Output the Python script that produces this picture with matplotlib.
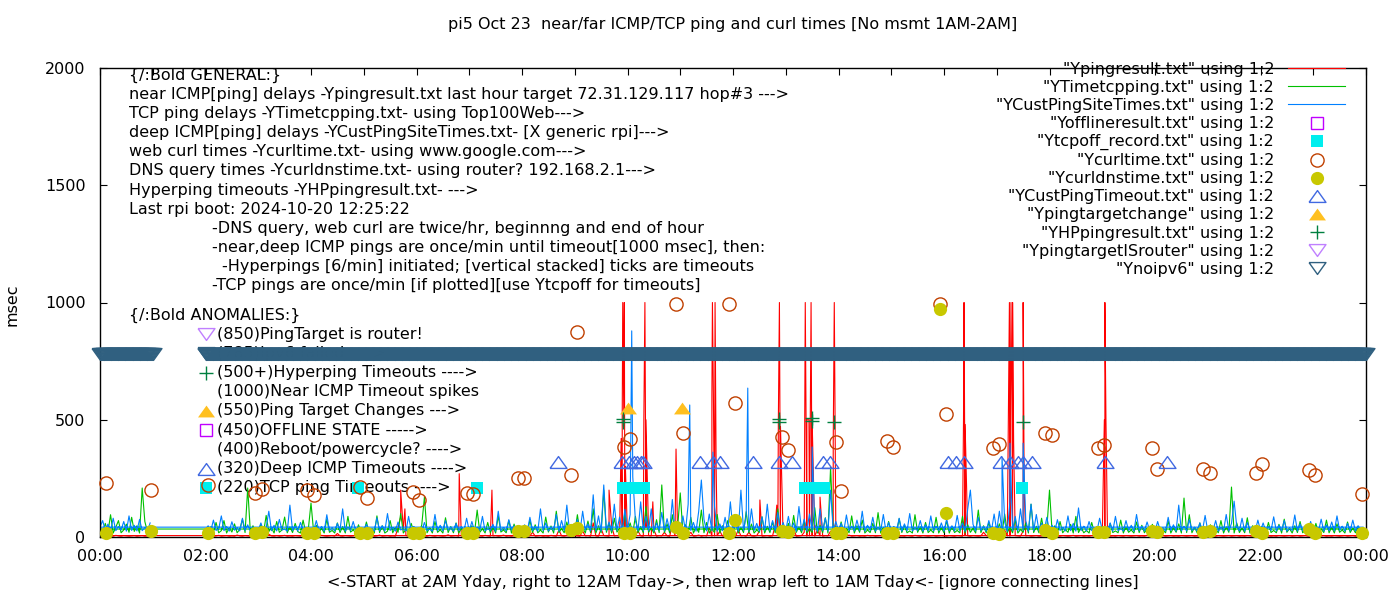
import numpy as np
import matplotlib
matplotlib.use("Agg")
import matplotlib.pyplot as plt

plt.rcParams['font.family'] = ['DejaVu Sans']
FS = 11.5

# ---------------- data ----------------
# logged from 2AM yesterday to midnight, then wrapped to 0-1AM today
noise_hours = [2, 3, 4, 5, 6, 7, 8, 9, 10, 11, 12, 13, 14, 15, 16, 17, 18, 19, 20, 21, 22, 23, 0]
samples_per_hour = 20  # one value every 3 minutes

# near ICMP ping (msec), red
ping_ms = [
    [5, 4, 6, 4, 5, 7, 4, 5, 6, 4, 5, 4, 8, 5, 4, 6, 5, 4, 7, 5],
    [4, 6, 5, 4, 12, 5, 4, 6, 4, 5, 7, 4, 5, 4, 6, 5, 4, 9, 5, 4],
    [6, 4, 5, 4, 7, 5, 4, 5, 6, 4, 15, 5, 4, 6, 5, 4, 5, 8, 4, 5],
    [5, 4, 6, 5, 4, 5, 8, 4, 5, 6, 4, 5, 4, 40, 85, 30, 6, 4, 5, 4],
    [5, 6, 4, 5, 4, 7, 5, 4, 6, 5, 4, 5, 9, 4, 5, 6, 4, 5, 4, 6],
    [4, 5, 6, 4, 5, 4, 7, 5, 4, 5, 6, 4, 5, 8, 4, 5, 4, 6, 5, 4],
    [5, 4, 6, 5, 20, 4, 5, 6, 4, 5, 4, 7, 5, 4, 30, 5, 4, 6, 5, 4],
    [6, 5, 4, 25, 5, 6, 4, 60, 5, 4, 35, 6, 5, 4, 45, 5, 6, 4, 30, 5],
    [5, 8, 4, 6, 25, 5, 4, 40, 6, 5, 30, 4, 6, 5, 20, 5, 4, 50, 6, 5],
    [4, 35, 5, 6, 20, 4, 5, 8, 4, 6, 5, 40, 4, 5, 6, 25, 5, 4, 6, 5],
    [5, 4, 30, 5, 6, 4, 20, 5, 4, 6, 25, 4, 5, 6, 4, 5, 50, 6, 4, 5],
    [6, 4, 5, 35, 4, 5, 6, 20, 4, 5, 6, 4, 30, 5, 4, 6, 5, 25, 4, 5],
    [5, 6, 4, 5, 8, 4, 5, 6, 4, 5, 4, 7, 5, 6, 4, 5, 6, 4, 5, 4],
    [4, 5, 6, 4, 5, 4, 6, 5, 4, 7, 5, 4, 6, 5, 4, 5, 6, 4, 5, 6],
    [5, 4, 6, 5, 4, 6, 5, 4, 8, 5, 4, 6, 5, 4, 5, 20, 6, 4, 5, 4],
    [6, 5, 4, 30, 5, 4, 35, 6, 5, 4, 25, 5, 6, 4, 5, 6, 4, 5, 6, 4],
    [5, 6, 4, 5, 4, 6, 5, 4, 5, 7, 4, 5, 6, 4, 5, 4, 6, 5, 4, 5],
    [4, 5, 6, 4, 5, 4, 6, 5, 4, 6, 5, 4, 5, 6, 4, 5, 4, 7, 5, 4],
    [5, 4, 5, 6, 4, 5, 6, 4, 5, 4, 6, 5, 4, 5, 6, 4, 5, 4, 6, 5],
    [6, 4, 5, 4, 6, 5, 4, 5, 6, 4, 5, 6, 4, 5, 4, 6, 5, 4, 5, 6],
    [4, 5, 6, 5, 4, 5, 4, 6, 5, 4, 5, 6, 4, 5, 6, 4, 5, 6, 4, 5],
    [5, 6, 4, 5, 6, 4, 5, 4, 6, 5, 4, 5, 6, 4, 5, 6, 4, 5, 4, 6],
    [6, 5, 4, 6, 5, 4, 7, 5, 4, 6, 5, 4, 5, 6, 4, 5, 6, 4, 5, 6],
]
ping_spike_t = [5.70, 5.78, 6.81, 7.43, 9.65, 9.88, 9.90, 9.91, 9.93, 9.94, 9.96, 10.31, 10.33,
                10.35, 10.48, 10.92, 11.60, 11.61, 11.63, 11.66, 11.68, 12.51, 12.83, 12.86,
                12.88, 12.90, 13.36, 13.37, 13.40, 13.44, 13.48, 13.50, 13.65, 13.90, 13.92,
                13.94, 16.37, 16.38, 16.40, 17.22, 17.24, 17.26, 17.27, 17.29, 17.30, 17.32,
                17.50, 17.52, 19.04, 19.05, 19.07]
ping_spike_ms = [200, 120, 270, 200, 200, 420, 510, 1000, 510, 1000, 300, 500, 1000,
                 500, 150, 375, 601, 1000, 560, 1000, 300, 158, 136, 500,
                 1000, 470, 500, 1000, 500, 500, 1000, 500, 170, 400, 1000,
                 350, 500, 1000, 480, 500, 1000, 600, 1000, 500, 1000, 400,
                 1000, 200, 500, 1000, 500]

# TCP ping (msec), green
tcpping_ms = [
    [19, 17, 44, 20, 62, 18, 27, 70, 17, 40, 21, 56, 18, 33, 75, 19, 209, 23, 48, 19],
    [21, 55, 18, 92, 23, 40, 17, 66, 20, 30, 85, 18, 44, 19, 58, 23, 17, 72, 19, 35],
    [145, 22, 50, 18, 38, 17, 76, 20, 28, 17, 60, 19, 45, 17, 88, 21, 30, 18, 52, 20],
    [18, 64, 21, 35, 17, 90, 19, 48, 17, 25, 70, 18, 42, 20, 100, 17, 33, 19, 58, 21],
    [24, 17, 52, 170, 18, 40, 17, 66, 20, 31, 17, 82, 19, 45, 18, 60, 17, 36, 22, 19],
    [17, 48, 19, 115, 20, 35, 17, 62, 18, 44, 17, 90, 21, 30, 18, 70, 17, 55, 19, 28],
    [20, 38, 17, 72, 19, 52, 18, 30, 17, 85, 21, 47, 17, 110, 19, 36, 18, 64, 17, 42],
    [18, 95, 20, 40, 17, 68, 19, 120, 17, 48, 18, 200, 20, 58, 17, 80, 21, 36, 19, 104],
    [22, 60, 17, 88, 19, 45, 18, 130, 20, 38, 17, 74, 19, 222, 18, 56, 17, 95, 21, 40],
    [188, 19, 52, 18, 84, 17, 40, 20, 115, 18, 62, 17, 35, 19, 96, 17, 48, 20, 70, 18],
    [21, 75, 17, 42, 19, 108, 18, 55, 17, 30, 20, 86, 17, 46, 19, 64, 18, 120, 17, 38],
    [19, 58, 17, 92, 20, 44, 18, 70, 17, 33, 19, 125, 17, 50, 18, 82, 17, 298, 20, 46],
    [17, 64, 19, 36, 18, 90, 17, 48, 20, 72, 17, 30, 19, 58, 18, 104, 17, 42, 19, 66],
    [20, 34, 17, 78, 19, 50, 18, 26, 17, 95, 20, 44, 17, 62, 19, 30, 18, 84, 17, 40],
    [18, 70, 17, 45, 19, 28, 18, 88, 17, 52, 20, 36, 17, 115, 19, 48, 18, 62, 17, 34],
    [21, 56, 17, 98, 19, 40, 18, 74, 17, 32, 20, 60, 17, 140, 19, 46, 18, 80, 17, 38],
    [200, 19, 48, 17, 66, 18, 32, 20, 54, 17, 88, 19, 40, 18, 28, 17, 62, 20, 45, 17],
    [18, 38, 17, 58, 19, 26, 18, 72, 17, 44, 20, 30, 17, 64, 19, 50, 18, 36, 17, 54],
    [19, 46, 17, 30, 18, 68, 17, 40, 20, 56, 17, 166, 19, 95, 18, 42, 17, 60, 20, 34],
    [17, 52, 19, 34, 18, 70, 17, 44, 20, 213, 17, 60, 19, 38, 18, 82, 17, 48, 20, 30],
    [20, 40, 17, 62, 19, 28, 18, 54, 17, 76, 20, 36, 17, 48, 19, 66, 18, 30, 17, 50],
    [18, 58, 17, 34, 19, 72, 18, 42, 17, 56, 20, 30, 17, 64, 19, 38, 18, 46, 17, 34],
    [34, 20, 58, 19, 95, 17, 42, 70, 18, 30, 55, 20, 84, 24, 48, 17, 209, 66, 22, 34],
]

# deep ICMP ping (msec), blue
custping_ms = [
    [30, 48, 26, 72, 28, 35, 90, 27, 44, 25, 65, 29, 38, 26, 80, 28, 52, 25, 36, 30],
    [28, 60, 25, 40, 110, 27, 50, 26, 75, 30, 34, 25, 136, 28, 46, 26, 62, 29, 38, 25],
    [32, 26, 70, 28, 45, 25, 95, 27, 38, 26, 58, 30, 120, 25, 42, 28, 66, 26, 34, 29],
    [26, 54, 29, 36, 25, 82, 27, 48, 26, 100, 28, 40, 25, 64, 30, 35, 26, 88, 27, 44],
    [29, 40, 26, 62, 28, 34, 25, 96, 27, 50, 26, 70, 30, 38, 25, 58, 28, 44, 26, 80],
    [27, 66, 25, 42, 29, 88, 26, 36, 28, 54, 25, 110, 27, 40, 26, 74, 30, 48, 25, 36],
    [30, 52, 26, 84, 28, 44, 25, 120, 27, 60, 26, 38, 29, 96, 25, 70, 28, 136, 26, 50],
    [28, 75, 25, 110, 30, 56, 26, 180, 27, 90, 25, 222, 28, 64, 26, 140, 29, 85, 25, 118],
    [30, 96, 256, 70, 28, 150, 26, 88, 27, 120, 25, 60, 29, 105, 26, 78, 28, 160, 25, 66],
    [27, 90, 26, 140, 28, 62, 25, 110, 243, 74, 26, 98, 28, 130, 25, 56, 27, 84, 26, 150],
    [29, 68, 25, 200, 27, 92, 26, 120, 28, 58, 25, 86, 27, 140, 26, 70, 28, 104, 25, 62],
    [26, 88, 28, 60, 25, 130, 27, 76, 26, 98, 28, 54, 25, 120, 27, 80, 26, 200, 28, 66],
    [27, 58, 25, 94, 28, 46, 26, 72, 27, 110, 25, 50, 28, 84, 26, 40, 27, 96, 25, 62],
    [28, 44, 26, 80, 25, 56, 27, 100, 26, 38, 28, 70, 25, 52, 27, 90, 26, 46, 28, 60],
    [25, 76, 27, 48, 26, 92, 28, 60, 25, 120, 200, 54, 26, 84, 28, 44, 25, 70, 27, 98],
    [26, 110, 28, 64, 25, 150, 27, 88, 26, 120, 28, 70, 25, 140, 27, 96, 26, 60, 28, 84],
    [27, 50, 25, 74, 28, 40, 26, 90, 27, 58, 25, 124, 28, 46, 26, 66, 27, 38, 25, 80],
    [28, 42, 26, 60, 25, 88, 27, 36, 26, 70, 28, 50, 25, 96, 27, 44, 26, 64, 28, 40],
    [25, 66, 27, 38, 26, 84, 28, 52, 25, 136, 27, 46, 26, 74, 28, 40, 25, 60, 27, 92],
    [26, 48, 28, 70, 25, 40, 27, 96, 26, 58, 153, 44, 27, 80, 25, 62, 28, 38, 26, 72],
    [27, 60, 25, 44, 28, 86, 26, 50, 27, 70, 25, 38, 28, 94, 26, 56, 27, 42, 25, 66],
    [28, 40, 26, 76, 25, 52, 27, 64, 26, 90, 28, 46, 25, 58, 27, 72, 26, 48, 28, 42],
    [42, 70, 28, 55, 26, 80, 27, 45, 30, 66, 25, 90, 28, 50, 26, 75, 27, 40, 25, 60],
]
custping_spike_t = [10.08, 11.18, 11.62, 12.28, 13.50, 17.10, 17.25, 17.50]
custping_spike_ms = [879, 563, 362, 635, 384, 341, 400, 400]

# web curl and DNS query times, twice an hour
curl_t = [0.11, 0.97, 2.05, 2.94, 3.07, 3.92, 4.06, 4.93, 5.06, 5.93,
          6.05, 6.96, 7.07, 7.92, 8.04, 8.93, 9.04, 9.93, 10.05, 10.92,
          11.05, 11.92, 12.04, 12.93, 13.04, 13.95, 14.05, 14.92, 15.03, 15.92,
          16.04, 16.93, 17.04, 17.91, 18.05, 18.92, 19.03, 19.94, 20.04, 20.91,
          21.04, 21.91, 22.03, 22.92, 23.03, 23.92]
curl_ms = [230, 200, 222, 188, 205, 200, 179, 213, 166, 192,
           158, 188, 183, 252, 252, 264, 874, 384, 418, 994,
           443, 994, 571, 426, 371, 405, 196, 409, 384, 994,
           525, 380, 397, 443, 435, 380, 392, 380, 290, 290,
           273, 273, 311, 286, 264, 183]
dns_ms = [17, 26, 17, 17, 21, 17, 17, 17, 17, 17,
          17, 17, 17, 26, 26, 30, 38, 17, 17, 43,
          17, 17, 72, 26, 21, 17, 17, 17, 17, 972,
          102, 17, 14, 30, 17, 21, 21, 26, 21, 21,
          26, 26, 17, 34, 17, 17]

# TCP ping timeouts (cyan squares)
tcpoff_t = [4.89, 7.15, 9.91, 9.96, 10.01, 10.06, 10.11, 10.16, 10.21, 10.26, 10.31,
            13.37, 13.42, 13.47, 13.52, 13.57, 13.62, 13.67, 13.72, 17.48]
tcpoff_level = 210

# deep ICMP timeouts (blue triangles)
custtimeout_t = [8.68, 9.90, 10.02, 10.12, 10.18, 10.25, 10.30, 11.37, 11.62, 11.75, 12.37,
                 12.87, 13.12, 13.70, 13.84, 16.08, 16.23, 16.37, 17.09, 17.25, 17.41, 17.50,
                 17.66, 19.05, 20.23]
custtimeout_level = 320

# ping target changes
targetchange_t = [10.01, 11.03]
targetchange_level = 550

# hyperping timeouts
hp_t = [9.91, 9.91, 12.87, 12.87, 13.50, 13.50, 13.92, 17.50]
hp_ms = [505, 492, 505, 492, 507, 494, 492, 492]

# no ipv6: a point every minute inside these spans (hours)
noipv6_spans = [(0.0, 1.0), (2.0, 24.0)]
noipv6_level = 780

RED, GREEN, BLUE = '#ff0000', '#00c000', '#0080ff'
PURPLE, CYAN, BROWN, OLIVE = '#c000ff', '#00eeee', '#c04000', '#c8c800'
ROYAL, GOLD, DKGREEN, LILAC, STEEL = '#4169e1', '#ffc020', '#008040', '#c080ff', '#306080'

TRI_UP = [(-1, -0.7), (1, -0.7), (0, 0.7), (-1, -0.7)]
TRI_DN = [(-1, 0.7), (1, 0.7), (0, -0.7), (-1, 0.7)]


def build_series(rows, spike_t=(), spike_v=()):
    t = np.concatenate([h + np.arange(samples_per_hour) / samples_per_hour for h in noise_hours])
    v = np.concatenate([np.asarray(r, float) for r in rows])
    t = np.concatenate([t, np.asarray(spike_t, float)])
    v = np.concatenate([v, np.asarray(spike_v, float)])
    # keep logging order: 2AM..24, then wrap to 0..1AM
    order = np.argsort(np.where(t < 2, t + 24, t), kind='stable')
    return t[order], v[order]


fig = plt.figure(figsize=(14, 6), dpi=100)
ax = fig.add_axes([100 / 1400, 63 / 600, 1266 / 1400, 469 / 600])

pt, pv = build_series(ping_ms, ping_spike_t, ping_spike_ms)
gt, gv = build_series(tcpping_ms)
bt, bv = build_series(custping_ms, custping_spike_t, custping_spike_ms)

ax.plot(pt, pv, color=RED, lw=0.8, zorder=2, label='"Ypingresult.txt" using 1:2')
ax.plot(gt, gv, color=GREEN, lw=0.8, zorder=2, label='"YTimetcpping.txt" using 1:2')
ax.plot(bt, bv, color=BLUE, lw=0.8, zorder=2, label='"YCustPingSiteTimes.txt" using 1:2')

mk = dict(linestyle='none', clip_on=False, zorder=3)
ax.plot([], [], marker='s', ms=9, mfc='none', mec=PURPLE, mew=1, label='"Yofflineresult.txt" using 1:2', **mk)
ax.plot(tcpoff_t, [tcpoff_level] * len(tcpoff_t), marker='s', ms=9, color=CYAN, mew=0,
        label='"Ytcpoff_record.txt" using 1:2', **mk)
ax.plot(curl_t, curl_ms, marker='o', ms=9.5, mfc='none', mec=BROWN, mew=1,
        label='"Ycurltime.txt" using 1:2', **mk)
ax.plot(curl_t, dns_ms, marker='o', ms=9.5, color=OLIVE, mew=0,
        label='"Ycurldnstime.txt" using 1:2', **mk)
ax.plot(custtimeout_t, [custtimeout_level] * len(custtimeout_t), marker=TRI_UP, ms=12.2,
        mfc='none', mec=ROYAL, mew=1, label='"YCustPingTimeout.txt" using 1:2', **mk)
ax.plot(targetchange_t, [targetchange_level] * len(targetchange_t), marker=TRI_UP, ms=12.2,
        color=GOLD, mew=0, label='"Ypingtargetchange" using 1:2', **mk)
ax.plot(hp_t, hp_ms, marker='+', ms=10, color=DKGREEN, mew=1,
        label='"YHPpingresult.txt" using 1:2', **mk)
ax.plot([], [], marker=TRI_DN, ms=12.2, mfc='none', mec=LILAC, mew=1,
        label='"YpingtargetISrouter" using 1:2', **mk)
nt = np.concatenate([np.arange(a * 60, b * 60 + 0.5) / 60 for a, b in noipv6_spans])
ax.plot(nt, [noipv6_level] * len(nt), marker=TRI_DN, ms=12.2, mfc='none', mec=STEEL, mew=1,
        linestyle='none', clip_on=False, zorder=4, label='"Ynoipv6" using 1:2')

ax.set_xlim(0, 24)
ax.set_ylim(0, 2000)
ax.set_xticks(range(25))
ax.set_xticklabels([f"{h % 24:02d}:00" if h % 2 == 0 else "" for h in range(25)])
ax.set_yticks([0, 500, 1000, 1500, 2000])
ax.tick_params(direction='in', length=5, width=0.8, top=True, right=True, labelsize=FS)
ax.tick_params(axis='x', pad=8.5)
ax.tick_params(axis='y', pad=10.5)
for s in ax.spines.values():
    s.set_linewidth(1)

leg = ax.legend(loc='upper right', bbox_to_anchor=(0.9834, 1.0128), markerfirst=False,
                frameon=False, fontsize=FS, handlelength=3.56, handletextpad=0.875,
                labelspacing=0.19, borderpad=0, borderaxespad=0)


# annotation block (layout in figure pixels of the original)
def axpos(px, py):
    return (px - 100) / 1266, (537 - py) / 469


general = [
    (129, "{/:Bold GENERAL:}"),
    (129, "near ICMP[ping] delays -Ypingresult.txt last hour target 72.31.129.117 hop#3 --->"),
    (129, "TCP ping delays -YTimetcpping.txt- using Top100Web--->"),
    (129, "deep ICMP[ping] delays -YCustPingSiteTimes.txt- [X generic rpi]--->"),
    (129, "web curl times -Ycurltime.txt- using www.google.com--->"),
    (129, "DNS query times -Ycurldnstime.txt- using router? 192.168.2.1--->"),
    (129, "Hyperping timeouts -YHPpingresult.txt- --->"),
    (129, "Last rpi boot: 2024-10-20 12:25:22"),
    (212, "-DNS query, web curl are twice/hr, beginnng and end of hour"),
    (212, "-near,deep ICMP pings are once/min until timeout[1000 msec], then:"),
    (222, "-Hyperpings [6/min] initiated; [vertical stacked] ticks are timeouts"),
    (212, "-TCP pings are once/min [if plotted][use Ytcpoff for timeouts]"),
]
for i, (px, s) in enumerate(general):
    ax.text(*axpos(px, 75 + 19.18 * i), s, transform=ax.transAxes, fontsize=FS,
            va='center', ha='left', zorder=1)

anomalies = [
    ("{/:Bold ANOMALIES:}", None),
    ("(850)PingTarget is router!", dict(marker=TRI_DN, ms=12.2, mfc='none', mec=LILAC, mew=1)),
    ("(785)Ipv6 failed ---->", dict(marker=TRI_DN, ms=12.2, mfc='none', mec=STEEL, mew=1)),
    ("(500+)Hyperping Timeouts ---->", dict(marker='+', ms=10, color=DKGREEN, mew=1)),
    ("(1000)Near ICMP Timeout spikes", None),
    ("(550)Ping Target Changes --->", dict(marker=TRI_UP, ms=12.2, color=GOLD, mew=0)),
    ("(450)OFFLINE STATE ----->", dict(marker='s', ms=9, mfc='none', mec=PURPLE, mew=1)),
    ("(400)Reboot/powercycle? ---->", None),
    ("(320)Deep ICMP Timeouts ---->", dict(marker=TRI_UP, ms=12.2, mfc='none', mec=ROYAL, mew=1)),
    ("(220)TCP ping Timeouts ---->", dict(marker='s', ms=9, color=CYAN, mew=0)),
]
for j, (s, key) in enumerate(anomalies):
    py = 315 + 19.2 * j
    px = 129 if j == 0 else 217
    ax.text(*axpos(px, py), s, transform=ax.transAxes, fontsize=FS,
            va='center', ha='left', zorder=1)
    if key:
        kx, ky = axpos(206, py)
        ax.plot([kx], [ky], transform=ax.transAxes, linestyle='none', clip_on=False,
                zorder=1.5, **key)

fig.text(733 / 1400, 1 - 25 / 600,
         "pi5 Oct 23  near/far ICMP/TCP ping and curl times [No msmt 1AM-2AM]",
         ha='center', va='center', fontsize=FS)
fig.text(733 / 1400, 1 - 583 / 600,
         "<-START at 2AM Yday, right to 12AM Tday->, then wrap left to 1AM Tday<- [ignore connecting lines]",
         ha='center', va='center', fontsize=FS)
fig.text(12 / 1400, 1 - 305 / 600, "msec", rotation=90, ha='center', va='center', fontsize=FS)

fig.savefig("out.png", dpi=100)
